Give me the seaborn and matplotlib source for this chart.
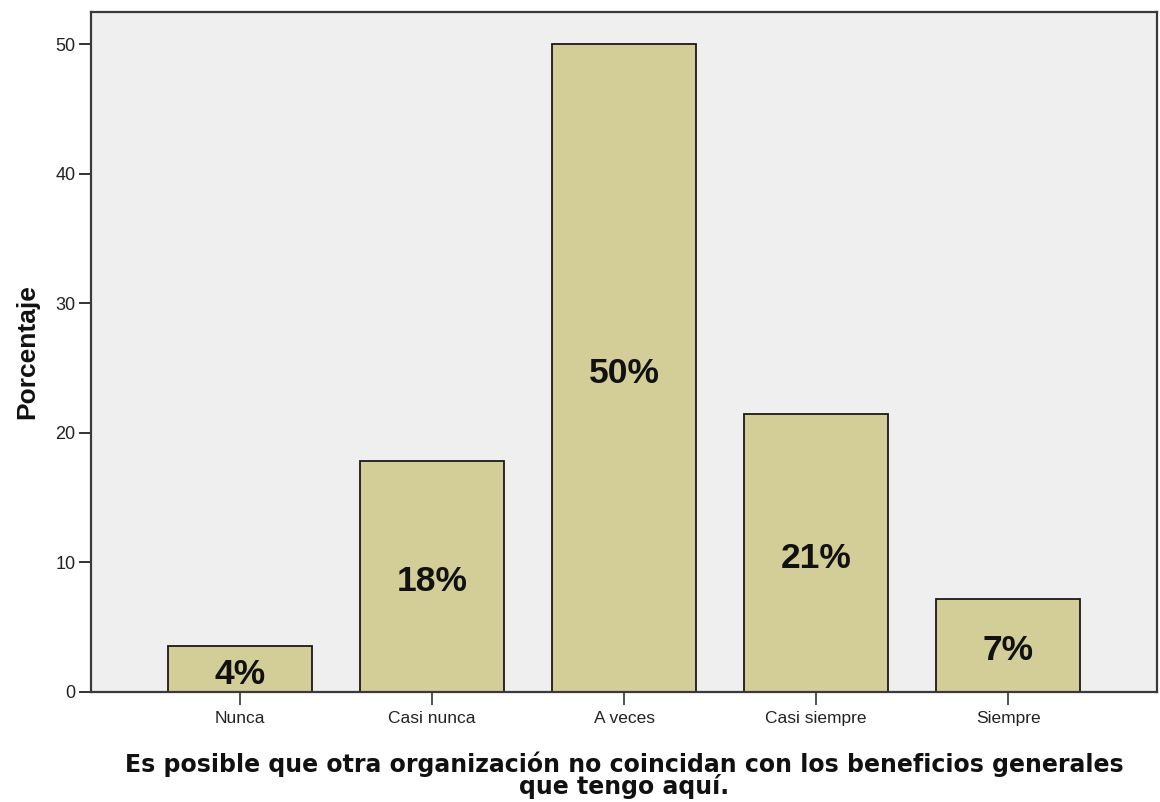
import matplotlib
matplotlib.use("Agg")
import matplotlib.pyplot as plt
import seaborn as sns
import pandas as pd

# Response categories and their share of respondents (percent)
categories = ["Nunca", "Casi nunca", "A veces", "Casi siempre", "Siempre"]
porcentaje = [3.57, 17.86, 50.0, 21.43, 7.14]

yticks = [0, 10, 20, 30, 40, 50]
xlabel = ("Es posible que otra organización no coincidan con los beneficios generales\n"
          "que tengo aquí.")
ylabel = "Porcentaje"

df = pd.DataFrame({"categoria": categories, "porcentaje": porcentaje})

sns.set_theme(style="white")
plt.rcParams["font.family"] = ["Liberation Sans", "DejaVu Sans"]

fig = plt.figure(figsize=(11.6, 8.02), dpi=100)
ax = fig.add_axes([91 / 1160, 1 - 692 / 802, (1157 - 91) / 1160, (692 - 12) / 802])
ax.set_facecolor("#efefef")

sns.barplot(data=df, x="categoria", y="porcentaje", order=categories,
            color="#d3ce97", saturation=1, width=0.75,
            edgecolor="#1a1a1a", linewidth=1.3, ax=ax)

# Percentage labels inside each bar
for i, v in enumerate(porcentaje):
    ax.text(i, v / 2 - 0.4, f"{v:.0f}%", ha="center", va="center",
            fontsize=25.5, fontweight="bold", color="#111111",
            family="Liberation Sans")

ax.set_xlim(-0.776, 4.776)
ax.set_ylim(0, 52.47)
ax.set_yticks(yticks)
ax.set_yticklabels([str(t) for t in yticks])

for side in ["left", "right", "top", "bottom"]:
    ax.spines[side].set_visible(True)
    ax.spines[side].set_color("#3a3a3a")
    ax.spines[side].set_linewidth(1.6)

ax.tick_params(axis="y", direction="out", length=9, width=1.4, color="#333333",
               pad=2, labelsize=13, labelcolor="#222222", left=True)
ax.tick_params(axis="x", direction="out", length=9, width=1.2, color="#333333",
               pad=5, labelsize=12.5, labelcolor="#222222", bottom=True)

ax.set_ylabel(ylabel, fontsize=19, fontweight="bold", labelpad=12, color="#111111")
ax.set_xlabel(xlabel, fontsize=17, fontweight="bold", family="DejaVu Sans",
              color="#111111", linespacing=0.85, labelpad=18)

fig.savefig("out.png", dpi=100, facecolor="white")
